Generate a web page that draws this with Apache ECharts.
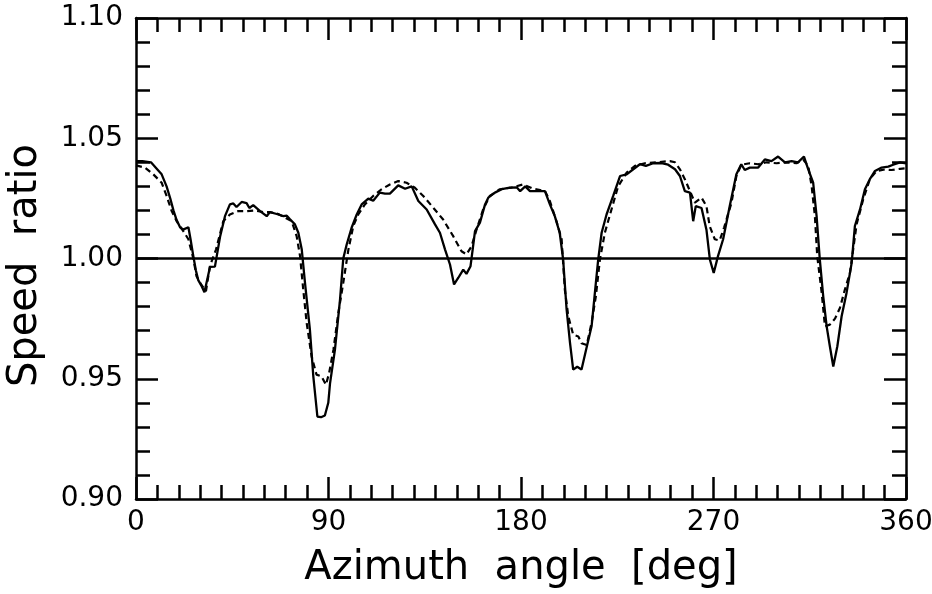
<!DOCTYPE html>
<html>
<head>
<meta charset="utf-8">
<script src="https://cdn.jsdelivr.net/npm/echarts@6/dist/echarts.min.js"></script>
<style>
html,body{margin:0;padding:0;background:#fff;}
#chart{width:932px;height:594px;}
</style>
</head>
<body>
<div id="chart"></div>
<script>
// Data
const solidAngle = [0,3,7,10,12,14.3,16,17.5,19,20.6,22,24.5,25.5,26.8,28,29.1,30.7,32,33,34.6,36.9,39.3,41.6,43.9,45.5,47,49.4,51.7,53,54.8,58,61.1,62.6,65.8,68.9,70.5,72,74.3,75.9,77.5,79,81.3,82.9,84.8,86.5,88.3,89.9,90.7,93,95.4,96.9,98.5,100.8,103.2,105.5,108.6,110.9,114,116.4,118.7,122.6,125.8,128.9,132,135.9,139.8,142.1,144.5,146.8,148.7,150.7,153,154.5,156.4,157.4,158.5,160.8,163.2,164.7,167.8,171,174.8,178,179.6,182,184.2,191.2,193.5,195.8,198.1,199.7,201.3,202.9,204.4,206.3,208.3,210.4,213,215,216.1,217.7,220,223.1,226.3,229.4,232.5,235.6,238.4,241.8,245.7,248.8,252,254.3,256.6,259,260.5,261.7,264.4,266.7,268.3,270.1,272.1,274.5,277.6,280.7,283,284.6,287,290.9,294,297.1,300.2,303.4,306.5,309.5,312.3,314.3,316.6,318.2,319.7,321.3,322.9,324.4,326,327.9,329.9,332.2,334.6,336.1,338.5,340.8,343.1,345.5,348.6,351.7,354,357.2,360];
const solidRatio = [1.0405,1.0405,1.040,1.037,1.035,1.030,1.025,1.020,1.016,1.013,1.012,1.013,1.008,1.001,0.995,0.991,0.9885,0.986,0.990,0.9965,0.9966,1.009,1.0176,1.0225,1.0229,1.0214,1.0235,1.023,1.021,1.0222,1.0197,1.0176,1.0193,1.0185,1.0176,1.0178,1.0163,1.0142,1.0107,1.0037,0.990,0.9704,0.951,0.9343,0.934,0.9347,0.940,0.948,0.962,0.983,1.000,1.0058,1.0128,1.0183,1.0225,1.0249,1.024,1.0274,1.027,1.027,1.0304,1.029,1.030,1.0239,1.0204,1.0142,1.0107,1.0037,0.9975,0.9892,0.992,0.9954,0.9936,0.9968,1.0037,1.0114,1.0149,1.0225,1.0253,1.0274,1.0288,1.0295,1.0296,1.028,1.030,1.028,1.028,1.0225,1.0176,1.0107,0.9996,0.979,0.965,0.9538,0.955,0.9538,0.962,0.9718,0.9899,0.9996,1.0107,1.0183,1.026,1.0343,1.035,1.0371,1.0392,1.0385,1.0396,1.0397,1.039,1.0371,1.0343,1.028,1.0274,1.0155,1.0218,1.021,1.012,0.9996,0.994,1.001,1.008,1.0218,1.035,1.0392,1.0368,1.0378,1.0378,1.0412,1.0405,1.0424,1.040,1.0405,1.040,1.0424,1.0371,1.0315,1.0176,0.9996,0.9843,0.9718,0.9635,0.9551,0.9635,0.976,0.9857,0.9982,1.0135,1.0204,1.0288,1.033,1.0364,1.0378,1.0382,1.039,1.040,1.0396];

const dashAngle = [0,4.2,8.1,12,14.3,16.7,19,22.1,24.5,26.8,28.3,30.6,32.7,34.6,37.4,40.8,43.9,47.8,51.7,55.6,59.5,62.6,66.5,69.7,72.8,75.1,76.7,78.2,79.8,82.1,84.4,86.7,88.8,90.3,92.3,94.6,96.9,99.3,101.6,103.9,107,110.9,114.8,118.7,122.6,126.5,130.4,134.3,139,143.6,148.3,152.2,154.5,156.9,159.2,162.3,165.4,170.1,175.6,181,185.7,191.2,193.5,196.6,199,200.5,202.1,204.4,206.8,208.3,210.7,213,215,216.9,219.2,222.3,225.4,229.4,233.3,237.9,243.4,249.6,252,254.3,256.6,259,261.3,264.4,266.7,268.2,270.6,272.9,275,278.4,280.7,283,286.9,290.9,294.8,299.5,304.2,308.8,312,314.3,315.9,317.4,318.5,320.6,322.1,324.4,326.8,329.1,331.4,333.8,335.3,336.9,340,343.1,346.2,350.1,353.2,357.2,360];
const dashRatio = [1.0387,1.0378,1.035,1.0315,1.026,1.0197,1.0155,1.0114,1.008,1.000,0.9926,0.989,0.9864,0.997,1.0037,1.0155,1.0183,1.0197,1.0197,1.020,1.0193,1.0193,1.0185,1.017,1.0155,1.0093,1.001,0.987,0.9732,0.9593,0.9517,0.951,0.9475,0.9524,0.962,0.9774,0.9899,1.0037,1.0135,1.0183,1.0225,1.026,1.0288,1.0308,1.0322,1.0315,1.0294,1.026,1.0211,1.0162,1.0093,1.003,1.0017,1.0051,1.012,1.0204,1.026,1.0288,1.0295,1.0308,1.029,1.0281,1.0239,1.0155,1.008,0.987,0.976,0.9683,0.9676,0.9648,0.964,0.9732,0.9843,0.9996,1.0107,1.0204,1.030,1.0357,1.0385,1.0396,1.040,1.0405,1.040,1.0371,1.033,1.028,1.0232,1.0253,1.0218,1.0135,1.008,1.0075,1.013,1.0232,1.0343,1.039,1.0396,1.0392,1.040,1.0396,1.040,1.0396,1.041,1.0385,1.030,1.0176,1.001,0.9857,0.9718,0.9725,0.975,0.9794,0.987,0.994,1.0037,1.0142,1.0246,1.033,1.0364,1.037,1.0368,1.0373,1.0375];

const xTicks = [0, 90, 180, 270, 360];
const yTicks = [0.90, 0.95, 1.00, 1.05, 1.10];
const referenceRatio = 1.0;

const FONT = 'DejaVu Sans';
const zip = (a, b) => a.map((v, i) => [v, b[i]]);

const chart = echarts.init(document.getElementById('chart'), null, {renderer: 'canvas'});

const axisLineStyle = {color: '#000', width: 2.5};
const tickStyle = {color: '#000', width: 2.5};

function xAxisCfg(pos, showLabel) {
  return {
    type: 'value', position: pos,
    min: xTicks[0], max: xTicks[xTicks.length - 1], interval: 90,
    axisLine: {show: true, onZero: false, lineStyle: axisLineStyle},
    axisTick: {show: true, inside: true, length: 22, lineStyle: tickStyle},
    minorTick: {show: true, splitNumber: 9, length: 14, lineStyle: tickStyle},
    splitLine: {show: false},
    axisLabel: {show: showLabel, color: '#000', fontFamily: FONT, fontSize: 28, margin: 10,
      formatter: v => String(v)},
    name: showLabel ? 'Azimuth  angle  [deg]' : '',
    nameLocation: 'middle', nameGap: 50,
    nameTextStyle: {color: '#000', fontFamily: FONT, fontSize: 40}
  };
}
function yAxisCfg(pos, showLabel) {
  return {
    type: 'value', position: pos,
    min: yTicks[0], max: yTicks[yTicks.length - 1], interval: 0.05,
    axisLine: {show: true, onZero: false, lineStyle: axisLineStyle},
    axisTick: {show: true, inside: true, length: 22, lineStyle: tickStyle},
    minorTick: {show: true, splitNumber: 5, length: 14, lineStyle: tickStyle},
    splitLine: {show: false},
    axisLabel: {show: showLabel, color: '#000', fontFamily: FONT, fontSize: 28, margin: 13,
      formatter: v => v.toFixed(2)},
    name: showLabel ? 'Speed  ratio' : '',
    nameLocation: 'middle', nameGap: 90,
    nameTextStyle: {color: '#000', fontFamily: FONT, fontSize: 40, padding: [0, 14, 0, 0]}
  };
}

chart.setOption({
  animation: false,
  backgroundColor: '#fff',
  grid: {left: 136, right: 26, top: 18, bottom: 95, containLabel: false, outerBoundsMode: 'none'},
  xAxis: [xAxisCfg('bottom', true), xAxisCfg('top', false)],
  yAxis: [yAxisCfg('left', true), yAxisCfg('right', false)],
  series: [
    {
      name: 'solid', type: 'line', xAxisIndex: 0, yAxisIndex: 0,
      data: zip(solidAngle, solidRatio), showSymbol: false, symbol: 'none',
      lineStyle: {color: '#000', width: 2.3}, z: 3,
      markLine: {
        silent: true, symbol: 'none', label: {show: false},
        lineStyle: {color: '#000', width: 2.5, type: 'solid'},
        data: [{yAxis: referenceRatio}]
      }
    },
    {
      name: 'dashed', type: 'line', xAxisIndex: 0, yAxisIndex: 0,
      data: zip(dashAngle, dashRatio), showSymbol: false, symbol: 'none',
      lineStyle: {color: '#000', width: 2.2, type: [6, 4]}, z: 2
    }
  ]
});
</script>
</body>
</html>
